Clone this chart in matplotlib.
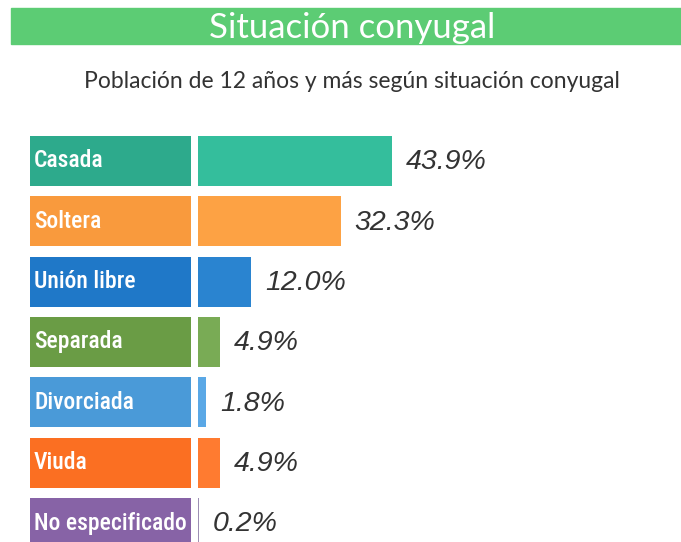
import matplotlib.pyplot as plt
from matplotlib.patches import Rectangle

categorias = ["Casada", "Soltera", "Unión libre", "Separada", "Divorciada", "Viuda", "No especificado"]
valores = [43.9, 32.3, 12.0, 4.9, 1.8, 4.9, 0.2]
etiquetas = ["43.9%", "32.3%", "12.0%", "4.9%", "1.8%", "4.9%", "0.2%"]
color_caja = ["#2daa8c", "#f99a3d", "#1f78c8", "#6a9c45", "#4a9ad8", "#fb6f22", "#8763a6"]
color_barra = ["#34be9c", "#fda244", "#2a84d0", "#79ab55", "#5aa8e6", "#ff7b30", "#9d8fb3"]

fig = plt.figure(figsize=(6.81, 5.42), dpi=100)

# banda verde del titulo
fig.patches.append(Rectangle((11 / 681, 1 - 44 / 542), 670 / 681, 36 / 542,
                             transform=fig.transFigure, color="#5ccc74", zorder=0))
fig.text(352 / 681, 1 - 28 / 542, "Situación conyugal", color="white", fontsize=25,
         family=["Lato", "DejaVu Sans"], ha="center", va="center")
fig.text(352 / 681, 1 - 82 / 542, "Población de 12 años y más según situación conyugal",
         color="#333333", fontsize=16.5, family=["Lato", "DejaVu Sans"], ha="center", va="center")

# 4.42 px por punto porcentual, cero en x=198 px
esc = 4.42
ax = fig.add_axes([30 / 681, 0, 651 / 681, (542 - 130) / 542])
ax.set_xlim(-168 / esc, 483 / esc)
ax.set_ylim(6 + 19 / 60.4, -31 / 60.4)
ax.axis("off")

y = list(range(len(categorias)))
alto = 50 / 60.4
# cajas de etiqueta
ax.barh(y, 161 / esc, left=-168 / esc, height=alto, color=color_caja)
ax.barh(y, valores, left=0, height=alto, color=color_barra)

for i in y:
    ax.text(-164 / esc, i, categorias[i], color="white", fontsize=17, weight="medium",
            family=["Roboto Condensed", "Roboto", "DejaVu Sans"], ha="left", va="center")
    ax.text(valores[i] + 14 / esc, i + 0.02, etiquetas[i], color="#333333", fontsize=20.5,
            style="italic", family=["Liberation Sans", "DejaVu Sans"], ha="left", va="center")

fig.savefig("out.png", dpi=100)
